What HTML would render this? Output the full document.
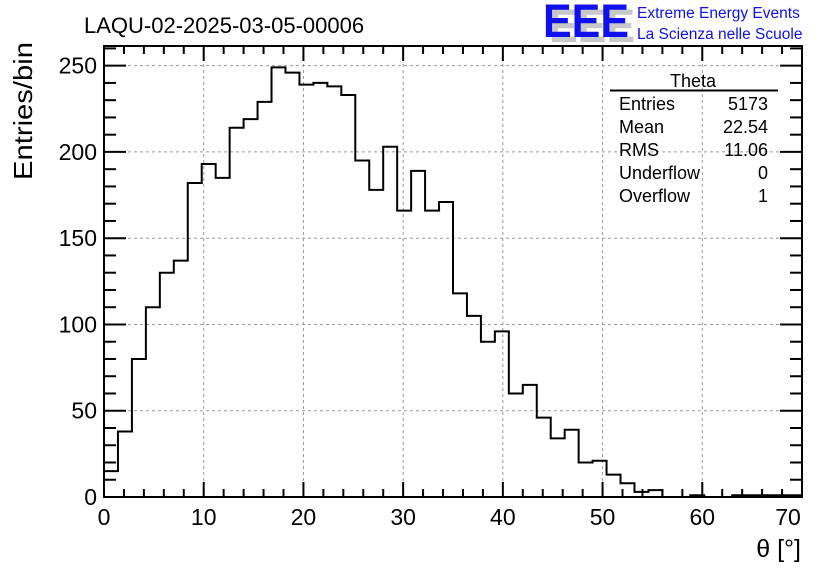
<!DOCTYPE html>
<html><head><meta charset="utf-8"><style>
body{margin:0;background:#fff;}
svg{display:block;font-family:"Liberation Sans",sans-serif;}
</style></head><body>
<svg id="chart" width="836" height="572" viewBox="0 0 836 572" xmlns="http://www.w3.org/2000/svg">
<rect width="836" height="572" fill="#fff"/>
<text x="84" y="33" font-size="22">LAQU-02-2025-03-05-00006</text>
<g>
<text x="549" y="42" font-size="47" fill="#c8c8c8" font-weight="bold" textLength="86" lengthAdjust="spacingAndGlyphs">EEE</text>
<text x="543" y="37" font-size="47" fill="#1010ee" font-weight="bold" textLength="86" lengthAdjust="spacingAndGlyphs">EEE</text>
<text x="637" y="18" font-size="15.5" fill="#1010ee">Extreme Energy Events</text>
<text x="637" y="39" font-size="15.5" fill="#1010ee">La Scienza nelle Scuole</text>
</g>
<g id="grid"></g>
<g id="ticks"></g>
<path id="hist" fill="none" stroke="#000" stroke-width="2"/>
<rect x="104" y="46" width="698" height="451" fill="none" stroke="#000" stroke-width="2"/>
<g id="labels" font-size="23"></g>
<text transform="translate(32,180) rotate(-90)" font-size="26" textLength="138" lengthAdjust="spacingAndGlyphs">Entries/bin</text>
<text x="801" y="557" font-size="25" text-anchor="end">θ [°]</text>
<g font-size="18">
<text x="693" y="87" text-anchor="middle">Theta</text>
<line x1="610" y1="90.5" x2="778" y2="90.5" stroke="#000" stroke-width="2"/>
<text x="619" y="110">Entries</text><text x="768" y="110" text-anchor="end">5173</text>
<text x="619" y="133">Mean</text><text x="768" y="133" text-anchor="end">22.54</text>
<text x="619" y="156">RMS</text><text x="768" y="156" text-anchor="end">11.06</text>
<text x="619" y="179">Underflow</text><text x="768" y="179" text-anchor="end">0</text>
<text x="619" y="202">Overflow</text><text x="768" y="202" text-anchor="end">1</text>
</g>
</svg>
<script>
const binCounts=[15,38,80,110,130,137,182,193,185,214,219,229,249,246,239,240,238,233,195,178,203,166,189,166,171,118,105,90,96,60,65,46,34,39,20,21,13,8,3,4,0,0,1,0,0,1,1,1,1,1];
const xTickValues=[0,10,20,30,40,50,60,70];
const yTickValues=[0,50,100,150,200,250];
const xMin=0,xMax=70,yMin=0,yMax=261.4;
const L=104,R=802,T=46,B=497;
const sx=v=>L+(v-xMin)/(xMax-xMin)*(R-L);
const sy=v=>B-(v-yMin)/(yMax-yMin)*(B-T);
const NS="http://www.w3.org/2000/svg";
function mk(tag,parent,attrs){const e=document.createElementNS(NS,tag);for(const k in attrs)e.setAttribute(k,attrs[k]);parent.appendChild(e);return e;}
const grid=document.getElementById('grid'),ticks=document.getElementById('ticks'),labels=document.getElementById('labels');
const bw=(xMax-xMin)/binCounts.length;
let d="M"+sx(0)+","+sy(binCounts[0]);
binCounts.forEach((c,i)=>{const y=sy(c);if(i>0)d+=" L"+sx(i*bw)+","+y;d+=" L"+sx((i+1)*bw)+","+y;});
document.getElementById('hist').setAttribute('d',d);
xTickValues.forEach(v=>{
  const x=sx(v);
  if(v>xMin&&v<xMax){const g=mk('line',grid,{x1:x,x2:x,y1:T,y2:B,stroke:'#999','stroke-dasharray':'3,3'});
  
  }
  const t=mk('text',labels,{x:v===xMax?x-14:x,y:B+28,'text-anchor':'middle'});t.textContent=v;
  
  
});
yTickValues.forEach(v=>{
  const y=sy(v);
  if(v>yMin){const g=mk('line',grid,{x1:L,x2:R,y1:y,y2:y,stroke:'#999','stroke-dasharray':'3,3'});
  
  }
  const t=mk('text',labels,{x:L-7,y:y+8,'text-anchor':'end'});t.textContent=v;
  
  
});
for(let v=xMin;v<=xMax;v+=2){const x=sx(v),len=(v%10===0)?15:8;
  mk('line',ticks,{x1:x,x2:x,y1:B,y2:B-len,stroke:'#000','stroke-width':2});
  mk('line',ticks,{x1:x,x2:x,y1:T,y2:T+len,stroke:'#000','stroke-width':2});}
for(let v=yMin;v<=yMax;v+=10){const y=sy(v),len=(v%50===0)?22:12;
  mk('line',ticks,{x1:L,x2:L+len,y1:y,y2:y,stroke:'#000','stroke-width':2});
  mk('line',ticks,{x1:R,x2:R-len,y1:y,y2:y,stroke:'#000','stroke-width':2});}
</script>
</body></html>
